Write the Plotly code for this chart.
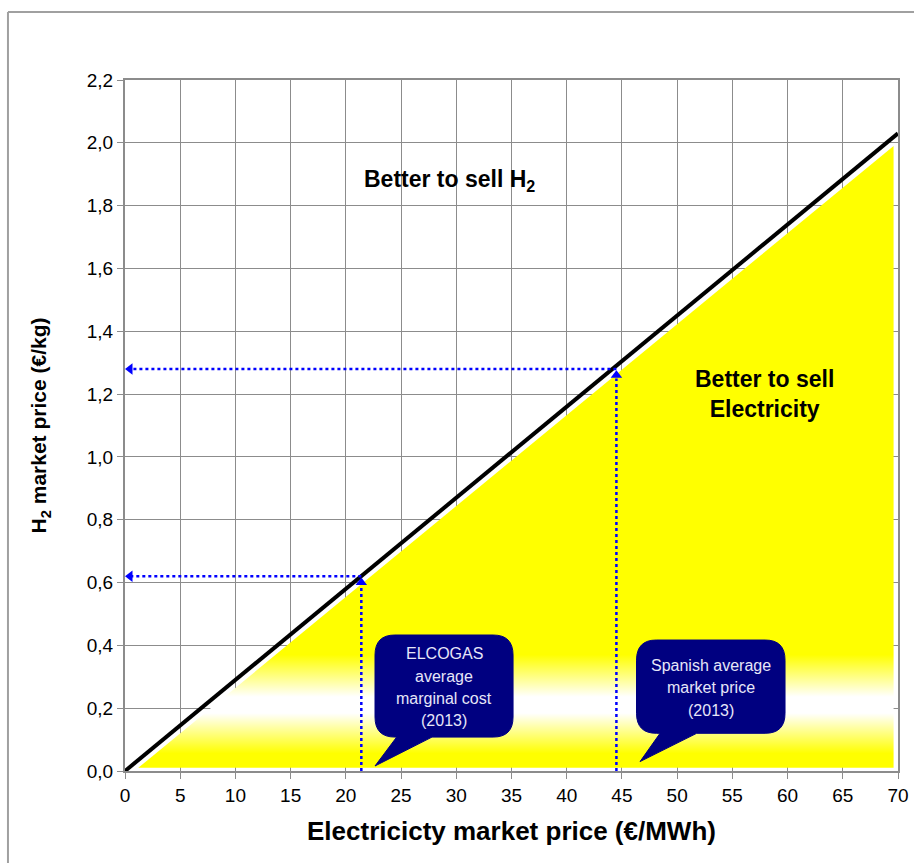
import plotly.graph_objects as go

# Break-even line between selling electricity and selling hydrogen
line_x = [0, 70]
line_y = [0, 2.03]

# "Better to sell Electricity" region (slightly inset below the line)
region_x = [1.2, 69.6, 69.6, 1.2]
region_y = [0.01, 0.01, 1.99, 0.01]

# Reference prices: electricity (€/MWh) and the equivalent H2 price (€/kg)
ref_names = ["ELCOGAS average marginal cost (2013)", "Spanish average market price (2013)"]
ref_elec = [21.4, 44.5]
ref_h2 = [0.62, 1.28]

callout_lines = [["ELCOGAS", "average", "marginal cost", "(2013)"],
                 ["Spanish average", "market price", "(2013)"]]

x_ticks = list(range(0, 75, 5))
y_ticks = [round(0.2 * i, 1) for i in range(12)]

GRID = "#8c8c8c"
BLUE = "#0000ff"
NAVY = "#000080"
FONT = "Liberation Sans, Arial, sans-serif"

fig = go.Figure()

# Yellow area with a white band near the bottom
fig.add_trace(go.Scatter(
    x=region_x, y=region_y, mode="none", fill="toself",
    fillgradient=dict(
        type="vertical", start=0, stop=2.0,
        colorscale=[[0.0, "#ffff00"], [0.028, "#ffff00"], [0.092, "#ffffff"],
                    [0.118, "#ffffff"], [0.185, "#ffff00"], [1.0, "#ffff00"]],
    ),
    hoverinfo="skip", showlegend=False,
))

# Break-even line
fig.add_trace(go.Scatter(
    x=line_x, y=line_y, mode="lines",
    line=dict(color="black", width=4), showlegend=False,
))

# Dotted guide arrows from each reference price to the axes
for xe, yh in zip(ref_elec, ref_h2):
    fig.add_trace(go.Scatter(
        x=[xe, xe], y=[0, yh - 0.03], mode="lines",
        line=dict(color=BLUE, width=2.5, dash="dot"), showlegend=False,
    ))
    fig.add_trace(go.Scatter(
        x=[xe, 0.6], y=[yh, yh], mode="lines",
        line=dict(color=BLUE, width=2.5, dash="dot"), showlegend=False,
    ))
    fig.add_trace(go.Scatter(
        x=[xe, 0.45], y=[yh - 0.02, yh], mode="markers",
        marker=dict(symbol=["triangle-up", "triangle-left"], size=10, color=BLUE),
        showlegend=False,
    ))


def callout_path(x0, x1, y0, y1, rx, ry, tx0, tx1, px, py):
    return (f"M {x0+rx},{y1} L {x1-rx},{y1} Q {x1},{y1} {x1},{y1-ry} "
            f"L {x1},{y0+ry} Q {x1},{y0} {x1-rx},{y0} L {tx1},{y0} L {px},{py} "
            f"L {tx0},{y0} L {x0+rx},{y0} Q {x0},{y0} {x0},{y0+ry} "
            f"L {x0},{y1-ry} Q {x0},{y1} {x0+rx},{y1} Z")


# Callout boxes: offsets relative to each reference electricity price
callout_boxes = [
    dict(dx0=1.24, dx1=13.74, y0=0.108, y1=0.433, tx0=3.2, tx1=6.4, px=1.24, py=0.016),
    dict(dx0=1.82, dx1=15.27, y0=0.120, y1=0.417, tx0=3.95, tx1=7.27, px=2.14, py=0.030),
]
LINE_STEP = 0.071  # vertical spacing of callout text lines, in €/kg

shapes = []
annotations = []
for xe, box, lines in zip(ref_elec, callout_boxes, callout_lines):
    x0, x1 = xe + box["dx0"], xe + box["dx1"]
    shapes.append(dict(
        type="path", xref="x", yref="y", layer="above",
        path=callout_path(x0, x1, box["y0"], box["y1"], 1.8, 0.064,
                          xe + box["tx0"], xe + box["tx1"], xe + box["px"], box["py"]),
        fillcolor=NAVY, line=dict(color=NAVY, width=1),
    ))
    yc = (box["y0"] + box["y1"]) / 2 - 0.004
    n = len(lines)
    for i, txt in enumerate(lines):
        annotations.append(dict(
            x=(x0 + x1) / 2, y=yc + ((n - 1) / 2 - i) * LINE_STEP, xref="x", yref="y",
            text=txt, showarrow=False, align="center",
            font=dict(family=FONT, size=16, color="#e6e6f8"),
        ))

annotations.append(dict(
    x=29.4, y=1.88, xref="x", yref="y", showarrow=False,
    text="<b>Better to sell H<sub>2</sub></b>",
    font=dict(family=FONT, size=23, color="black"),
))
annotations.append(dict(
    x=57.9, y=1.2, xref="x", yref="y", showarrow=False, align="center",
    text="<b>Better to sell<br>Electricity</b>",
    font=dict(family=FONT, size=23, color="black"),
))

# Outer frame of the chart area (left and top edges; the rest runs off the page)
FRAME_L, FRAME_T = -0.1514, 1.0984
shapes.append(dict(type="line", xref="paper", yref="paper", layer="below",
                   x0=FRAME_L, x1=FRAME_L, y0=-0.2, y1=FRAME_T,
                   line=dict(color="#a0a0a0", width=2)))
shapes.append(dict(type="line", xref="paper", yref="paper", layer="below",
                   x0=FRAME_L, x1=1.2, y0=FRAME_T, y1=FRAME_T,
                   line=dict(color="#a0a0a0", width=2)))

fig.update_layout(
    width=914, height=863,
    margin=dict(l=125, r=16, t=80, b=92, autoexpand=False),
    paper_bgcolor="white", plot_bgcolor="white",
    separators=",.",
    showlegend=False,
    shapes=shapes, annotations=annotations,
    font=dict(family=FONT, color="black"),
)

fig.update_xaxes(
    range=[0, 70], tickvals=x_ticks, ticktext=[str(v) for v in x_ticks],
    showgrid=True, gridcolor=GRID, gridwidth=1,
    showline=True, linecolor=GRID, linewidth=2, mirror=True,
    ticks="outside", ticklen=6, tickcolor=GRID,
    tickfont=dict(family=FONT, size=19, color="black"),
    title=dict(text="<b>Electricicty market price (€/MWh)</b>",
               font=dict(family=FONT, size=26, color="black"), standoff=17),
    zeroline=False, automargin=False,
)
fig.update_yaxes(
    range=[0, 2.2], tickvals=y_ticks, tickformat=".1f",
    showgrid=True, gridcolor=GRID, gridwidth=1,
    showline=True, linecolor=GRID, linewidth=2, mirror=True,
    ticks="outside", ticklen=6, tickcolor=GRID,
    tickfont=dict(family=FONT, size=19, color="black"),
    title=dict(text="<b>H<sub>2</sub> market price (€/kg)</b>",
               font=dict(family=FONT, size=21, color="black"), standoff=34),
    zeroline=False, automargin=False,
)

fig.write_html("out.html")
